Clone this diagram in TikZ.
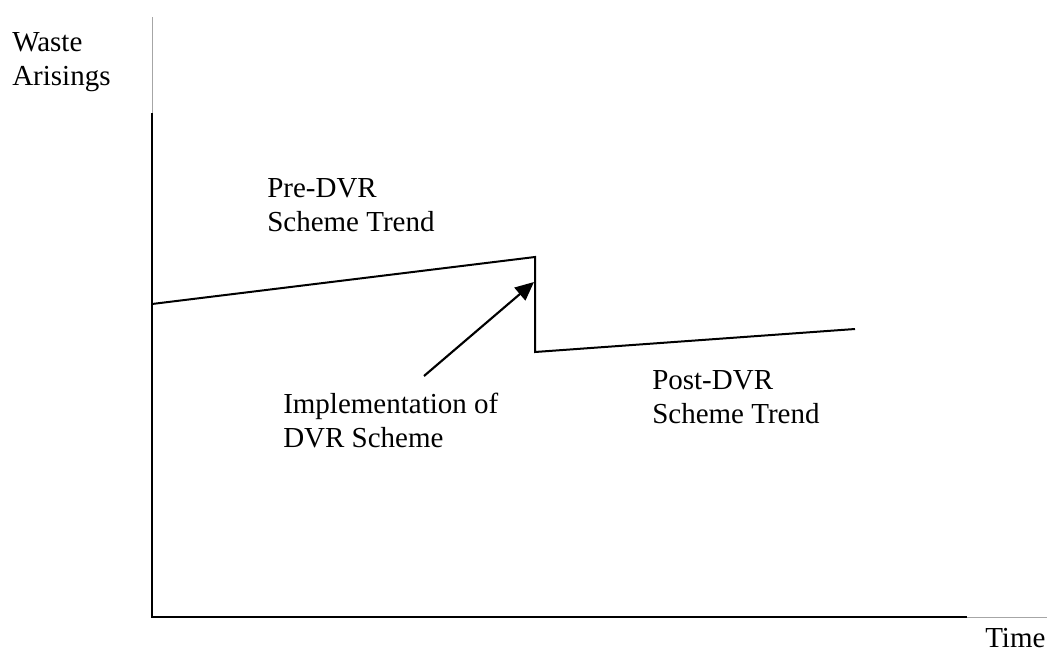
\documentclass[tikz,border=0pt]{standalone}
\usepackage{fontspec}
\setmainfont{Liberation Serif}
\usepackage{tikz}
\usetikzlibrary{arrows.meta,positioning,calc}
\tikzset{
  lbl/.style={anchor=base west,inner sep=0pt,align=left,font=\fontsize{21.75}{25}\selectfont},
  axisline/.style={line width=1.5pt,black},
  faintline/.style={line width=0.75pt,black!35},
  trendline/.style={line width=1.5pt,black},
  pointer/.style={-{Triangle[length=14pt,width=12.5pt]},line width=1.6pt}
}
\begin{document}
\begin{tikzpicture}[x=0.75pt,y=-0.75pt]
  \useasboundingbox (0,0) rectangle (1050,653);
  % axes
  \coordinate (ytop) at (152,17);
  \coordinate (ymid) at (152,113);
  \coordinate (origin) at (152,617);
  \coordinate (xmid) at (967,617);
  \coordinate (xend) at (1047,617);
  \draw[faintline] (ytop) -- (ymid);
  \draw[axisline] (ymid) -- (origin) -- (xmid);
  \draw[faintline] (xmid) -- (xend);

  % trend before and after the scheme
  \coordinate (prestart) at (152,304);
  \coordinate (preend) at (535,257);
  \coordinate (poststart) at (535,352);
  \coordinate (postend) at (855,329);
  \draw[trendline] (prestart) -- (preend) -- (poststart) -- (postend);

  % labels (base = last line)
  \node[lbl] (wastelbl) at (12,85) {Waste\\Arisings};
  \node[lbl] (timelbl) at (985,647) {Time};
  \node[lbl] (prelbl) at (267,231) {Pre-DVR\\Scheme Trend};
  \node[lbl] (postlbl) at (652,423) {Post-DVR\\Scheme Trend};
  \node[lbl] (implbl) at (283,447) {Implementation of\\DVR Scheme};

  % pointer to the drop
  \coordinate (tail) at (424,376);
  \coordinate (tip) at (534,282);
  \draw[pointer] (tail) -- (tip);
\end{tikzpicture}
\end{document}
